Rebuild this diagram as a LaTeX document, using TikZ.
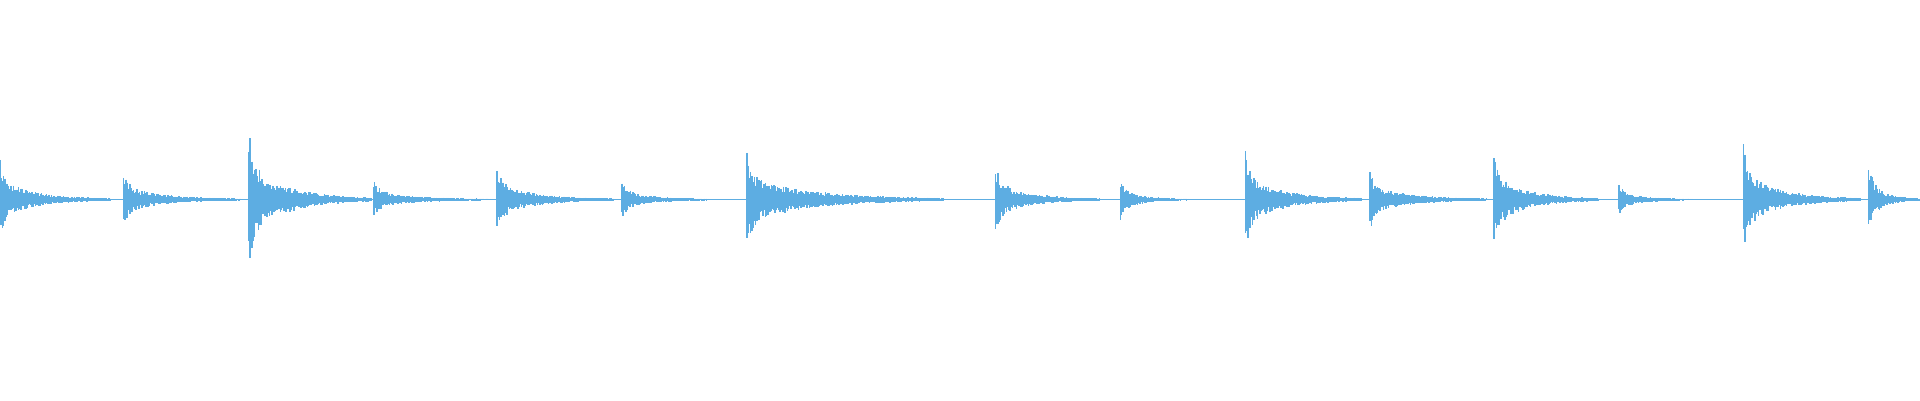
\documentclass[tikz,border=0pt]{standalone}
\definecolor{wave}{RGB}{93,173,226}
\tikzset{wv/.style={draw=wave,line width=1.3pt}}
\newcommand{\wavehit}[4]{%
  \foreach \i in {0,...,#4}{%
    \pgfmathsetmacro{\env}{(0.45+0.55*exp(-\i/5))*exp(-3*\i/#4)}
    \pgfmathsetmacro{\ra}{0.5+0.5*rnd}
    \pgfmathsetmacro{\rb}{0.5+0.5*rnd}
    \draw[wv] (#1+\i,164+#2*\env*\ra+0.4) -- (#1+\i,164-#3*\env*\rb-0.4);
  }}
\begin{document}
\begin{tikzpicture}[x=1pt,y=1pt]
\pgfmathsetseed{7}
\useasboundingbox (0,0) rectangle (1568,327);
\draw[draw=wave,line width=0.8pt] (0,164) -- (1568,164);
\wavehit{0}{34}{32}{90}
\wavehit{101}{24}{22}{95}
\wavehit{203}{59}{59}{100}
\wavehit{305}{16}{15}{95}
\wavehit{406}{28}{28}{95}
\wavehit{508}{16}{16}{70}
\wavehit{610}{41}{41}{160}
\wavehit{813}{29}{28}{85}
\wavehit{915}{17}{17}{55}
\wavehit{1017}{42}{42}{95}
\wavehit{1119}{25}{24}{95}
\wavehit{1220}{42}{43}{85}
\wavehit{1322}{13}{13}{60}
\wavehit{1424}{45}{43}{95}
\wavehit{1526}{30}{28}{42}
\end{tikzpicture}
\end{document}
